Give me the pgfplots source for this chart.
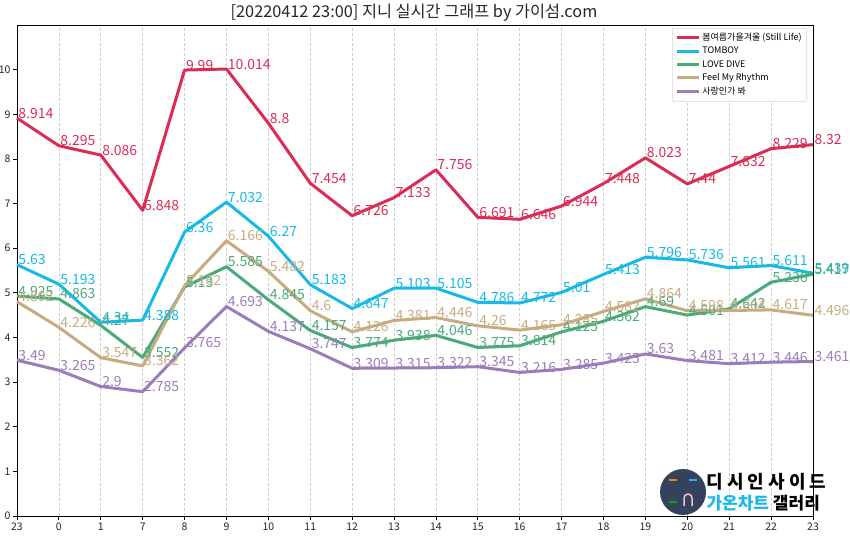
\documentclass[border=0pt]{standalone}
\usepackage{pgfplots}
\pgfplotsset{compat=1.18}
\usepackage{fontspec}
\setmainfont{Noto Sans CJK KR}
\definecolor{cRed}{HTML}{DB2D54}
\definecolor{cBlue}{HTML}{18B9E6}
\definecolor{cGreen}{HTML}{4AAA7A}
\definecolor{cBeige}{HTML}{C6AC80}
\definecolor{cPurple}{HTML}{9B7EB9}
\definecolor{cNavy}{HTML}{34425E}
\begin{document}
\begin{tikzpicture}[x=1pt,y=1pt]
\begin{axis}[
  at={(0,0)}, anchor=south west,
  scale only axis, width=796pt, height=491pt,
  xmin=0, xmax=19, ymin=0, ymax=11,
  xtick={0,...,19},
  xticklabels={23,0,1,7,8,9,10,11,12,13,14,15,16,17,18,19,20,21,22,23},
  ytick={0,1,...,10},
  tick pos=left, tick align=outside, major tick length=4pt,
  tick style={black, line width=0.8pt},
  axis line style={black, line width=0.9pt},
  xmajorgrids, grid style={dash pattern=on 3pt off 2pt, black!20, line width=0.7pt},
  /pgf/number format/assume math mode=true,
  ticklabel style={font=\fontsize{10.5}{11}\selectfont, text=black!85},
  xticklabel style={yshift=1pt},
  yticklabel style={xshift=1pt},
  clip=false,
  legend cell align=left,
  legend style={at={(0.9925,0.994)}, anchor=north east, draw=black!15, line width=0.6pt,
    font=\fontsize{9}{11}\selectfont, inner sep=3pt, row sep=1pt, rounded corners=1pt},
  legend image code/.code={\draw[line width=3pt, #1] (0pt,0pt) -- (22pt,0pt);},
  nodes near coords,
  point meta=explicit symbolic,
  every node near coord/.append style={anchor=base west, inner sep=0pt, font=\fontsize{14}{14}\selectfont},
  every axis plot/.append style={line width=3pt, line join=round},
]
\addplot[cRed, no markers, every node near coord/.append style={text=cRed}] coordinates {
(0,8.914)[8.914] (1,8.295)[8.295] (2,8.086)[8.086] (3,6.848)[6.848] (4,9.99)[9.99] (5,10.014)[10.014] (6,8.8)[8.8] (7,7.454)[7.454] (8,6.726)[6.726] (9,7.133)[7.133] (10,7.756)[7.756] (11,6.691)[6.691] (12,6.646)[6.646] (13,6.944)[6.944] (14,7.448)[7.448] (15,8.023)[8.023] (16,7.44)[7.44] (17,7.832)[7.832] (18,8.229)[8.229] (19,8.32)[8.32]};
\addlegendentry{봄여름가을겨울 (Still Life)}
\addplot[cBlue, no markers, every node near coord/.append style={text=cBlue}] coordinates {
(0,5.63)[5.63] (1,5.193)[5.193] (2,4.34)[4.34] (3,4.388)[4.388] (4,6.36)[6.36] (5,7.032)[7.032] (6,6.27)[6.27] (7,5.183)[5.183] (8,4.647)[4.647] (9,5.103)[5.103] (10,5.105)[5.105] (11,4.786)[4.786] (12,4.772)[4.772] (13,5.01)[5.01] (14,5.413)[5.413] (15,5.796)[5.796] (16,5.736)[5.736] (17,5.561)[5.561] (18,5.611)[5.611] (19,5.439)[5.439]};
\addlegendentry{TOMBOY}
\addplot[cGreen, no markers, every node near coord/.append style={text=cGreen}] coordinates {
(0,4.925)[4.925] (1,4.863)[4.863] (2,4.27)[4.27] (3,3.552)[3.552] (4,5.13)[5.13] (5,5.585)[5.585] (6,4.845)[4.845] (7,4.157)[4.157] (8,3.774)[3.774] (9,3.938)[3.938] (10,4.046)[4.046] (11,3.775)[3.775] (12,3.814)[3.814] (13,4.125)[4.125] (14,4.362)[4.362] (15,4.69)[4.69] (16,4.501)[4.501] (17,4.642)[4.642] (18,5.236)[5.236] (19,5.417)[5.417]};
\addlegendentry{LOVE DIVE}
\addplot[cBeige, no markers, every node near coord/.append style={text=cBeige}] coordinates {
(0,4.802)[4.802] (1,4.226)[4.226] (2,3.547)[3.547] (3,3.362)[3.362] (4,5.162)[5.162] (5,6.166)[6.166] (6,5.482)[5.482] (7,4.6)[4.6] (8,4.126)[4.126] (9,4.381)[4.381] (10,4.446)[4.446] (11,4.26)[4.26] (12,4.165)[4.165] (13,4.285)[4.285] (14,4.582)[4.582] (15,4.864)[4.864] (16,4.598)[4.598] (17,4.604)[4.604] (18,4.617)[4.617] (19,4.496)[4.496]};
\addlegendentry{Feel My Rhythm}
\addplot[cPurple, no markers, every node near coord/.append style={text=cPurple}] coordinates {
(0,3.49)[3.49] (1,3.265)[3.265] (2,2.9)[2.9] (3,2.785)[2.785] (4,3.765)[3.765] (5,4.693)[4.693] (6,4.137)[4.137] (7,3.747)[3.747] (8,3.309)[3.309] (9,3.315)[3.315] (10,3.322)[3.322] (11,3.345)[3.345] (12,3.216)[3.216] (13,3.285)[3.285] (14,3.425)[3.425] (15,3.63)[3.63] (16,3.481)[3.481] (17,3.412)[3.412] (18,3.446)[3.446] (19,3.461)[3.461]};
\addlegendentry{사랑인가 봐}
\end{axis}
% title
\node[anchor=base, font=\fontsize{16.3}{17}\selectfont, text=black!85] at (397,498) {[20220412 23:00] 지니 실시간 그래프 by 가이섬.com};
% watermark logo
\fill[cNavy] (666,24) circle (23);
\draw[orange, line width=1.5pt] (652,36) -- (660,36);
\draw[cBlue, line width=1.5pt] (672,36) -- (680,36);
\draw[green!70!black, line width=1.5pt] (652,14) -- (660,14);
\draw[pink, line width=1.5pt] (667,10) -- (667,18) arc (180:0:4) -- (675,10);
\node[anchor=west, font=\fontsize{18}{18}\selectfont\bfseries, text=black] at (686,34) {디 시 인 사 이 드};
\node[anchor=west, font=\fontsize{17}{17}\selectfont\bfseries] at (686,13) {\textcolor{cBlue}{가온차트} \textcolor{black}{갤러리}};
\pgfresetboundingbox
\path[use as bounding box] (-17,-24) rectangle (833,516);
\end{tikzpicture}
\end{document}
